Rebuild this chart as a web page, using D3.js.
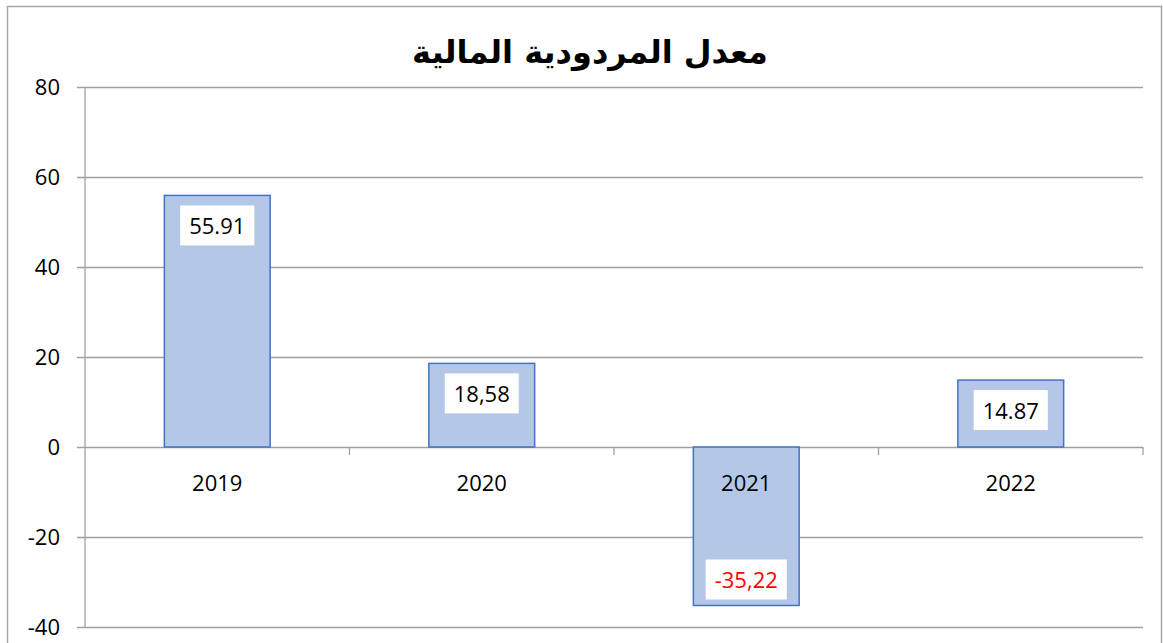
<!DOCTYPE html>
<html>
<head>
<meta charset="utf-8">
<script src="https://cdn.jsdelivr.net/npm/d3@7"></script>
<style>
  body { margin: 0; background: #fff; }
  svg text { font-family: "Open Sans", "Noto Sans", sans-serif; }
</style>
</head>
<body>
<svg id="chart"></svg>
<script>
const years = ['2019', '2020', '2021', '2022'];
const values = [55.91, 18.58, -35.22, 14.87];
const valueLabels = ['55.91', '18,58', '-35,22', '14.87'];
const yTicks = [-40, -20, 0, 20, 40, 60, 80];
const chartTitle = 'معدل المردودية المالية';

const W = 1163, H = 643;
const margin = {top: 87, right: 20, bottom: 16, left: 85};
const width = 1143 - margin.left;
const height = 627 - margin.top;

const svg = d3.select('#chart').attr('width', W).attr('height', H);

// outer chart border
svg.append('rect')
    .attr('x', 7.5).attr('y', 6.5)
    .attr('width', 1154).attr('height', 660)
    .attr('fill', '#fff')
    .attr('stroke', '#a6a6a6')
    .attr('stroke-width', 1.5);

svg.append('text')
    .attr('x', 590).attr('y', 63)
    .attr('text-anchor', 'middle')
    .style('font-family', '"DejaVu Sans", sans-serif')
    .style('font-weight', 'bold')
    .style('font-size', '32px')
    .attr('direction', 'rtl')
    .text(chartTitle);

const chart = svg.append('g')
    .attr('transform', `translate(${margin.left},${margin.top})`);

const xScale = d3.scaleBand().domain(years).range([0, width]).paddingInner(0.6).paddingOuter(0.3);
const yScale = d3.scaleLinear().domain([-40, 80]).range([height, 0]);

// gridlines + y axis
const yAxis = d3.axisLeft(yScale).tickValues(yTicks).tickSize(-width).tickPadding(25)
    .tickFormat(d => String(d));
chart.append('g')
    .call(yAxis)
    .call(g => g.selectAll('.tick line').attr('stroke', '#a0a0a0').attr('stroke-width', 1.3).attr('x1', -8))
    .call(g => g.select('.domain').remove())
    .call(g => g.selectAll('.tick text').style('font-size', '22px').attr('fill', '#000'));

chart.append('line')
    .attr('x1', 0).attr('x2', 0).attr('y1', 0).attr('y2', height)
    .attr('stroke', '#a0a0a0').attr('stroke-width', 1.3);

// category boundary ticks on the zero line
const step = width / years.length;
chart.append('g').selectAll('line')
    .data(d3.range(1, years.length + 1))
    .join('line')
    .attr('x1', d => d * step).attr('x2', d => d * step)
    .attr('y1', yScale(0)).attr('y2', yScale(0) + 8)
    .attr('stroke', '#a0a0a0').attr('stroke-width', 1.3);

// bars
chart.selectAll('.bar')
    .data(values)
    .join('rect')
    .attr('class', 'bar')
    .attr('x', (d, i) => xScale(years[i]))
    .attr('width', xScale.bandwidth())
    .attr('y', d => yScale(Math.max(0, d)))
    .attr('height', d => Math.abs(yScale(d) - yScale(0)))
    .attr('fill', '#b4c7e7')
    .attr('stroke', '#4472c4')
    .attr('stroke-width', 1.5);

// category labels below the zero line
chart.selectAll('.cat')
    .data(years)
    .join('text')
    .attr('class', 'cat')
    .attr('x', d => xScale(d) + xScale.bandwidth() / 2)
    .attr('y', yScale(0) + 44)
    .attr('text-anchor', 'middle')
    .style('font-size', '22px')
    .text(d => d);

// data labels in white boxes
const labels = chart.selectAll('.lbl')
    .data(values)
    .join('g')
    .attr('class', 'lbl');

labels.each(function(d, i) {
  const g = d3.select(this);
  const cx = xScale(years[i]) + xScale.bandwidth() / 2;
  const cy = d >= 0 ? yScale(d) + 30 : yScale(d) - 26;
  const t = g.append('text')
      .attr('x', cx).attr('y', cy)
      .attr('text-anchor', 'middle')
      .attr('dominant-baseline', 'central')
      .style('font-size', '22px')
      .attr('fill', d < 0 ? '#ff0000' : '#000')
      .text(valueLabels[i]);
  const bb = t.node().getBBox();
  g.insert('rect', 'text')
      .attr('x', cx - bb.width / 2 - 9)
      .attr('y', cy - 20)
      .attr('width', bb.width + 18)
      .attr('height', 40)
      .attr('fill', '#fff');
});
</script>
</body>
</html>
